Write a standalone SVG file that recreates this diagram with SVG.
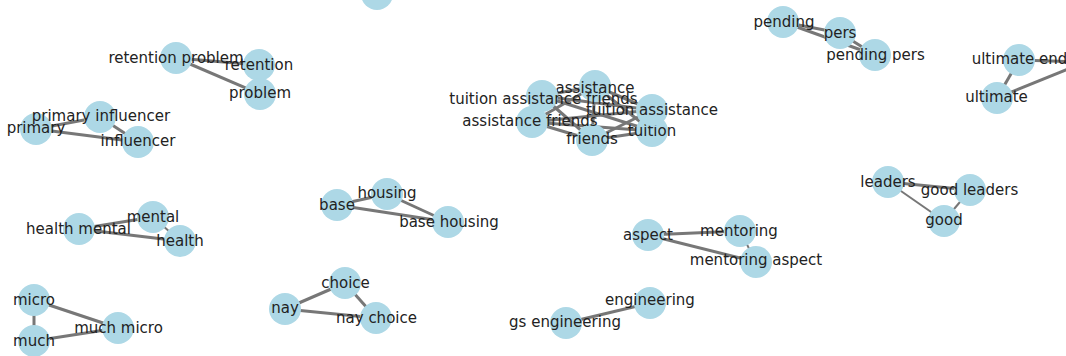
<svg xmlns="http://www.w3.org/2000/svg" width="1066" height="356" viewBox="0 0 1066 356">
  <style>
    .link { stroke: #777; stroke-width: 3; stroke-linecap: butt; }
    .link.thin { stroke-width: 2; }
    .node circle { fill: #add8e6; }
    .node text { font-family: "DejaVu Sans", Verdana, sans-serif; font-size: 15px; fill: #222; text-anchor: middle; }
  </style>
  <rect width="1066" height="356" fill="#fff"/>

  <!-- connectors -->
  <g id="links">
    <!-- retention problem -->
    <line class="link" x1="176" y1="58" x2="259" y2="65"/>
    <line class="link" x1="176" y1="58" x2="260" y2="94"/>
    <line class="link" x1="259" y1="65" x2="260" y2="94"/>
    <!-- primary influencer -->
    <line class="link" x1="36" y1="129" x2="100" y2="117"/>
    <line class="link" x1="36" y1="129" x2="138" y2="142"/>
    <line class="link" x1="100" y1="117" x2="138" y2="142"/>
    <!-- pending pers -->
    <line class="link" x1="783" y1="22" x2="840" y2="33"/>
    <line class="link" x1="783" y1="22" x2="875" y2="55"/>
    <line class="link" x1="840" y1="33" x2="875" y2="55"/>
    <!-- ultimate end (third node lies past the right edge) -->
    <line class="link" x1="1019" y1="60" x2="997" y2="98"/>
    <line class="link" x1="1019" y1="60" x2="1085" y2="62"/>
    <line class="link" x1="997" y1="98" x2="1085" y2="62"/>
    <!-- tuition assistance friends -->
    <line class="link" x1="542" y1="96" x2="595" y2="86"/>
    <line class="link" x1="542" y1="96" x2="652" y2="110"/>
    <line class="link" x1="542" y1="96" x2="532" y2="122"/>
    <line class="link" x1="542" y1="96" x2="592" y2="140"/>
    <line class="link" x1="542" y1="96" x2="652" y2="131"/>
    <line class="link" x1="595" y1="86" x2="652" y2="110"/>
    <line class="link" x1="595" y1="86" x2="532" y2="122"/>
    <line class="link" x1="595" y1="86" x2="592" y2="140"/>
    <line class="link" x1="595" y1="86" x2="652" y2="131"/>
    <line class="link" x1="652" y1="110" x2="532" y2="122"/>
    <line class="link" x1="652" y1="110" x2="592" y2="140"/>
    <line class="link" x1="652" y1="110" x2="652" y2="131"/>
    <line class="link" x1="532" y1="122" x2="592" y2="140"/>
    <line class="link" x1="532" y1="122" x2="652" y2="131"/>
    <line class="link" x1="592" y1="140" x2="652" y2="131"/>
    <!-- health mental -->
    <line class="link" x1="79" y1="229" x2="153" y2="217"/>
    <line class="link" x1="79" y1="229" x2="180" y2="241"/>
    <line class="link thin" x1="153" y1="217" x2="180" y2="241"/>
    <!-- base housing -->
    <line class="link" x1="337" y1="205" x2="387" y2="194"/>
    <line class="link" x1="337" y1="205" x2="448" y2="222"/>
    <line class="link" x1="387" y1="194" x2="448" y2="222"/>
    <!-- much micro -->
    <line class="link" x1="34" y1="300" x2="34" y2="341"/>
    <line class="link" x1="34" y1="300" x2="118" y2="328"/>
    <line class="link" x1="34" y1="341" x2="118" y2="328"/>
    <!-- nay choice -->
    <line class="link" x1="285" y1="309" x2="345" y2="283"/>
    <line class="link" x1="285" y1="309" x2="376" y2="318"/>
    <line class="link" x1="345" y1="283" x2="376" y2="318"/>
    <!-- mentoring aspect -->
    <line class="link" x1="648" y1="235" x2="740" y2="231"/>
    <line class="link" x1="648" y1="235" x2="756" y2="262"/>
    <line class="link thin" x1="740" y1="231" x2="756" y2="262"/>
    <!-- gs engineering -->
    <line class="link" x1="566" y1="323" x2="650" y2="303"/>
    <!-- good leaders -->
    <line class="link" x1="888" y1="182" x2="970" y2="190"/>
    <line class="link thin" x1="888" y1="182" x2="944" y2="221"/>
    <line class="link thin" x1="970" y1="190" x2="944" y2="221"/>
  </g>

  <!-- nodes -->
  <g id="node-top" class="node"><circle cx="377" cy="-6" r="16"/></g>

  <g id="node-retention" class="node"><circle cx="259" cy="65" r="16"/><text x="259" y="69.5">retention</text></g>
  <g id="node-problem" class="node"><circle cx="260" cy="94" r="16"/><text x="260" y="98">problem</text></g>
  <g id="node-retention-problem" class="node"><circle cx="176" cy="58" r="16"/><text x="176" y="63">retention problem</text></g>

  <g id="node-primary" class="node"><circle cx="36" cy="129" r="16"/><text x="36" y="132.5">primary</text></g>
  <g id="node-influencer" class="node"><circle cx="138" cy="142" r="16"/><text x="138" y="146">influencer</text></g>
  <g id="node-primary-influencer" class="node"><circle cx="100" cy="117" r="16"/><text x="101" y="121">primary influencer</text></g>

  <g id="node-pers" class="node"><circle cx="840" cy="33" r="16"/><text x="840" y="37.5">pers</text></g>
  <g id="node-pending" class="node"><circle cx="783" cy="22" r="16"/><text x="784" y="26.5">pending</text></g>
  <g id="node-pending-pers" class="node"><circle cx="875" cy="55" r="16"/><text x="875.5" y="59.5">pending pers</text></g>

  <g id="node-ultimate" class="node"><circle cx="997" cy="98" r="16"/><text x="996.5" y="102">ultimate</text></g>
  <g id="node-ultimate-end" class="node"><circle cx="1019" cy="60" r="16"/><text x="1019.5" y="64">ultimate end</text></g>

  <g id="node-tuition" class="node"><circle cx="652" cy="131" r="16"/><text x="652" y="136">tuition</text></g>
  <g id="node-friends" class="node"><circle cx="592" cy="140" r="16"/><text x="592" y="143.5">friends</text></g>
  <g id="node-assistance-friends" class="node"><circle cx="532" cy="122" r="16"/><text x="530" y="125.5">assistance friends</text></g>
  <g id="node-tuition-assistance" class="node"><circle cx="652" cy="110" r="16"/><text x="652" y="115">tuition assistance</text></g>
  <g id="node-assistance" class="node"><circle cx="595" cy="86" r="16"/><text x="595" y="93">assistance</text></g>
  <g id="node-tuition-assistance-friends" class="node"><circle cx="542" cy="96" r="16"/><text x="543.5" y="104">tuition assistance friends</text></g>

  <g id="node-health-mental" class="node"><circle cx="79" cy="229" r="16"/><text x="78.5" y="233.5">health mental</text></g>
  <g id="node-mental" class="node"><circle cx="153" cy="217" r="16"/><text x="153" y="221.5">mental</text></g>
  <g id="node-health" class="node"><circle cx="180" cy="241" r="16"/><text x="180" y="246">health</text></g>

  <g id="node-base" class="node"><circle cx="337" cy="205" r="16"/><text x="337" y="209.5">base</text></g>
  <g id="node-housing" class="node"><circle cx="387" cy="194" r="16"/><text x="387" y="198">housing</text></g>
  <g id="node-base-housing" class="node"><circle cx="448" cy="222" r="16"/><text x="449" y="227">base housing</text></g>

  <g id="node-micro" class="node"><circle cx="34" cy="300" r="16"/><text x="34" y="305">micro</text></g>
  <g id="node-much" class="node"><circle cx="34" cy="341" r="16"/><text x="34" y="346">much</text></g>
  <g id="node-much-micro" class="node"><circle cx="118" cy="328" r="16"/><text x="118.5" y="333">much micro</text></g>

  <g id="node-choice" class="node"><circle cx="345" cy="283" r="16"/><text x="345.5" y="288">choice</text></g>
  <g id="node-nay" class="node"><circle cx="285" cy="309" r="16"/><text x="285" y="313">nay</text></g>
  <g id="node-nay-choice" class="node"><circle cx="376" cy="318" r="16"/><text x="376.5" y="323">nay choice</text></g>

  <g id="node-aspect" class="node"><circle cx="648" cy="235" r="16"/><text x="648" y="239.5">aspect</text></g>
  <g id="node-mentoring" class="node"><circle cx="740" cy="231" r="16"/><text x="739" y="236">mentoring</text></g>
  <g id="node-mentoring-aspect" class="node"><circle cx="756" cy="262" r="16"/><text x="756" y="265">mentoring aspect</text></g>

  <g id="node-engineering" class="node"><circle cx="650" cy="303" r="16"/><text x="650" y="305">engineering</text></g>
  <g id="node-gs-engineering" class="node"><circle cx="566" cy="323" r="16"/><text x="565" y="326.5">gs engineering</text></g>

  <g id="node-leaders" class="node"><circle cx="888" cy="182" r="16"/><text x="888" y="187">leaders</text></g>
  <g id="node-good-leaders" class="node"><circle cx="970" cy="190" r="16"/><text x="969.5" y="194.5">good leaders</text></g>
  <g id="node-good" class="node"><circle cx="944" cy="221" r="16"/><text x="944" y="224.5">good</text></g>
</svg>
